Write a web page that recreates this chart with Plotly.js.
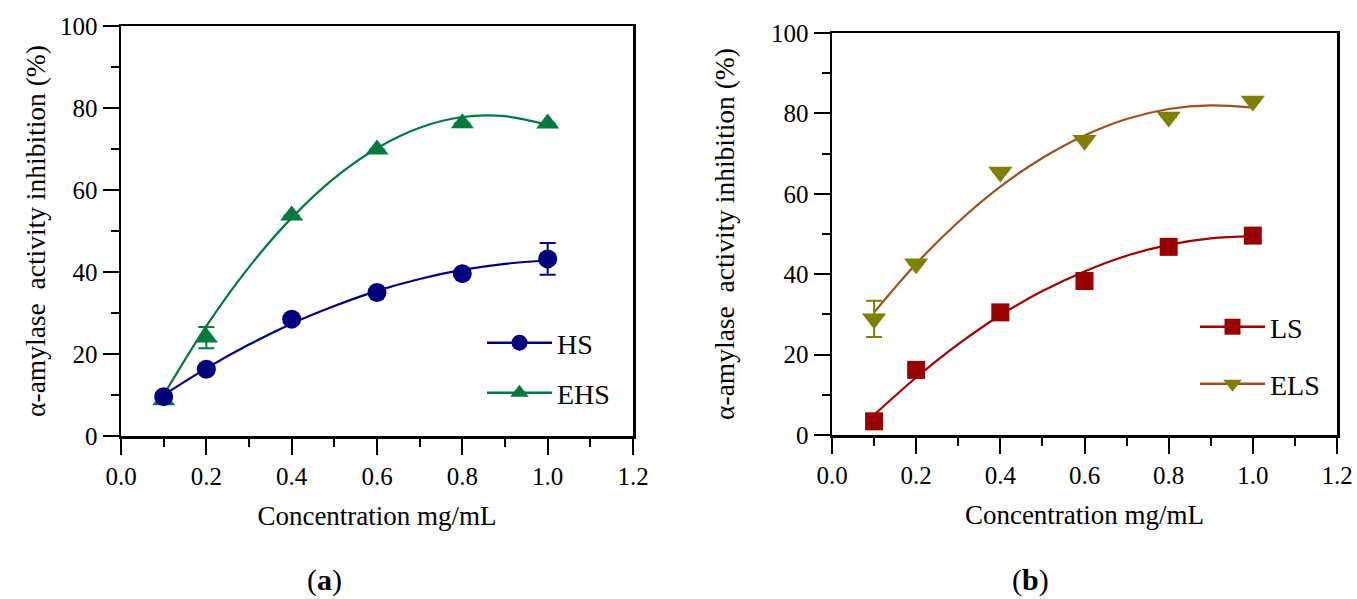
<!DOCTYPE html>
<html><head><meta charset="utf-8">
<script src="https://cdn.plot.ly/plotly-3.0.1.min.js"></script>
<style>html,body{margin:0;padding:0;background:#fff}#chart{width:1357px;height:599px}</style>
</head><body><div id="chart"></div>
<script>
// ---- data ----
const conc = [0.1, 0.2, 0.4, 0.6, 0.8, 1.0];
const hs = [9.6, 16.3, 28.5, 35.0, 39.6, 43.2];
const hsErr = [0, 0, 0, 0, 0, 3.9];
const ehs = [8.7, 24.0, 53.8, 69.9, 76.3, 76.2];
const ehsErr = [0, 2.6, 0, 0, 0, 0];
const ls = [3.4, 16.2, 30.5, 38.3, 46.8, 49.6];
const lsErr = [0, 0, 0, 0, 0, 0];
const els = [28.9, 42.6, 65.4, 73.3, 79.1, 83.1];
const elsErr = [4.5, 0, 0, 0, 0, 0];
// fitted curves
const fitX = [0.1, 0.2, 0.3, 0.4, 0.5, 0.6, 0.7, 0.8, 0.9, 1.0];
const hsFit = [10.0, 16.5, 22.3, 27.4, 31.7, 35.4, 38.3, 40.5, 42.0, 42.8];
const ehsFit = [10.0, 26.8, 41.2, 53.2, 62.9, 70.2, 75.2, 77.8, 78.0, 75.9];
const lsFit = [5.0, 14.3, 22.6, 29.8, 35.8, 40.7, 44.6, 47.3, 48.9, 49.4];
const elsFit = [30.5, 42.6, 53.0, 61.8, 68.9, 74.5, 78.6, 81.1, 82.0, 81.4];
const xTitle = 'Concentration mg/mL';
const yTitle = 'α-amylase \u00a0activity inhibition (%)';
const panelLabels = ['(<b>a</b>)', '(<b>b</b>)'];

// ---- styling ----
const W = 1357, H = 599;
const serif = 'Liberation Serif, Times New Roman, serif';
const C = {hs: '#00007f', ehs: '#007a3d', ls: '#990000', lsLine: '#a00000', els: '#7f7f00', elsLine: '#a0501e'};

function xAxis(dom, anchor) {
  return {
    domain: dom, anchor: anchor, range: [0, 1.2], tick0: 0, dtick: 0.2, tickformat: '.1f',
    ticks: 'outside', ticklen: 16, tickwidth: 2, tickcolor: '#000', ticklabelstandoff: 0,
    minor: {dtick: 0.1, tick0: 0, ticks: 'outside', ticklen: 8, tickwidth: 2, tickcolor: '#000'},
    showline: true, linewidth: 2.5, linecolor: '#000', mirror: true,
    showgrid: false, zeroline: false, fixedrange: true,
    tickfont: {family: serif, size: 25, color: '#000'},
    title: {text: xTitle, font: {family: serif, size: 27, color: '#000'}, standoff: 18}
  };
}
function yAxis(dom, anchor, standoff) {
  return {
    domain: dom, anchor: anchor, range: [0, 100], tick0: 0, dtick: 20,
    ticks: 'outside', ticklen: 16, tickwidth: 2, tickcolor: '#000', ticklabelstandoff: 0,
    minor: {dtick: 10, tick0: 0, ticks: 'outside', ticklen: 8, tickwidth: 2, tickcolor: '#000'},
    showline: true, linewidth: 2.5, linecolor: '#000', mirror: true,
    showgrid: false, zeroline: false, fixedrange: true,
    tickfont: {family: serif, size: 25, color: '#000'},
    title: {text: yTitle, font: {family: serif, size: 27.5, color: '#000'}, standoff: standoff}
  };
}

function curve(x, y, color, xa, ya) {
  return {x: x, y: y, xaxis: xa, yaxis: ya, mode: 'lines', type: 'scatter',
    line: {color: color, width: 2.2, shape: 'spline', smoothing: 1}, showlegend: false, hoverinfo: 'skip'};
}
function points(x, y, err, color, symbol, size, xa, ya) {
  return {x: x, y: y, xaxis: xa, yaxis: ya, mode: 'markers', type: 'scatter', showlegend: false,
    marker: {color: color, symbol: symbol, size: size},
    error_y: {type: 'data', array: err, visible: true, color: color, thickness: 2, width: 8}};
}
function legendItem(name, lineColor, color, symbol, size, leg, xa, ya) {
  return {x: [null], y: [null], xaxis: xa, yaxis: ya, name: name, legend: leg, mode: 'lines+markers',
    type: 'scatter', line: {color: lineColor, width: 2.5}, marker: {color: color, symbol: symbol, size: size}};
}

const traces = [
  curve(fitX, ehsFit, C.ehs, 'x', 'y'),
  curve(fitX, hsFit, C.hs, 'x', 'y'),
  points(conc, ehs, ehsErr, C.ehs, 'triangle-up', 20, 'x', 'y'),
  points(conc, hs, hsErr, C.hs, 'circle', 19, 'x', 'y'),
  curve(fitX, elsFit, C.elsLine, 'x2', 'y2'),
  curve(fitX, lsFit, C.lsLine, 'x2', 'y2'),
  points(conc, els, elsErr, C.els, 'triangle-down', 21, 'x2', 'y2'),
  points(conc, ls, lsErr, C.ls, 'square', 18, 'x2', 'y2'),
  legendItem('HS', C.hs, C.hs, 'circle', 19, 'legend', 'x', 'y'),
  legendItem('EHS', C.ehs, C.ehs, 'triangle-up', 20, 'legend2', 'x', 'y'),
  legendItem('LS', C.lsLine, C.ls, 'square', 18, 'legend3', 'x2', 'y2'),
  legendItem('ELS', C.elsLine, C.els, 'triangle-down', 21, 'legend4', 'x2', 'y2')
];

function leg(px, py) {
  return {x: px / W, y: 1 - py / H, xanchor: 'left', yanchor: 'middle', bgcolor: 'rgba(0,0,0,0)',
    borderwidth: 0, itemwidth: 65, font: {family: serif, size: 28, color: '#000'}};
}

const layout = {
  width: W, height: H, margin: {l: 0, r: 0, t: 0, b: 0},
  paper_bgcolor: '#fff', plot_bgcolor: '#fff',
  font: {family: serif, color: '#000'},
  xaxis: xAxis([121 / W, 633 / W], 'y'),
  yaxis: yAxis([1 - 436 / H, 1 - 26 / H], 'x', 7),
  xaxis2: xAxis([832 / W, 1337 / W], 'y2'),
  yaxis2: yAxis([1 - 435 / H, 1 - 33 / H], 'x2', 29),
  legend: leg(482, 343),
  legend2: leg(482, 393),
  legend3: leg(1195, 327),
  legend4: leg(1195, 384),
  annotations: [
    {text: panelLabels[0], xref: 'paper', yref: 'paper', x: 324 / W, y: 1 - 580 / H, showarrow: false,
     xanchor: 'center', yanchor: 'middle', font: {family: serif, size: 30, color: '#000'}},
    {text: panelLabels[1], xref: 'paper', yref: 'paper', x: 1030 / W, y: 1 - 580 / H, showarrow: false,
     xanchor: 'center', yanchor: 'middle', font: {family: serif, size: 30, color: '#000'}}
  ]
};

Plotly.newPlot('chart', traces, layout, {staticPlot: true, displayModeBar: false});
</script>
</body></html>
